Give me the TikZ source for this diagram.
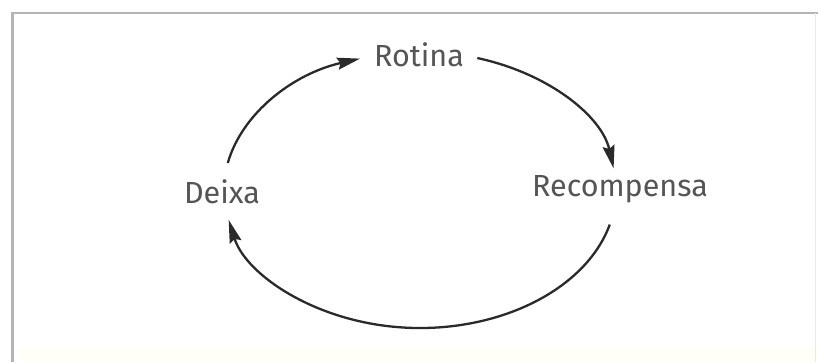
\documentclass[tikz,border=0pt]{standalone}
\usepackage{fontspec}
\setmainfont{Fira Sans}
\usetikzlibrary{arrows.meta,calc}
\definecolor{ink}{HTML}{2A2A2A}
\definecolor{labelgray}{HTML}{555555}
\definecolor{framegray}{HTML}{B4B4B4}
\definecolor{band}{HTML}{FFFEF7}
\tikzset{
  stagelabel/.style={text=labelgray, inner sep=0pt, font=\fontsize{30.5}{36}\selectfont},
  cyclearrow/.style={draw=ink, line width=2.3pt,
    -{Stealth[length=23pt, width=12pt, inset=3pt]}},
}
\begin{document}
\begin{tikzpicture}[x=1pt,y=1pt]
  % canvas and frame
  \useasboundingbox (0,0) rectangle (818,362);
  \fill[white] (0,0) rectangle (818,362);
  \fill[band] (20,0) rectangle (818,14);
  \draw[framegray, line width=2.5pt] (12.5,0) -- (12.5,349) -- (818,349);
  \draw[framegray!30, line width=1pt] (815,349) -- (815,0);

  % stages of the cycle
  \node[stagelabel] (rotina) at (419,307) {Rotina};
  \node[stagelabel] (deixa)  at (222,170) {Deixa};
  \node[stagelabel] (recomp) at (620,173) {Recompensa};

  % the loop is an ellipse round these three stages
  \coordinate (ctr) at (420,172);
  \coordinate (d-out) at ($(ctr)+(168.7:196pt and 138pt)$);
  \coordinate (r-out) at ($(ctr)+(73:196pt and 138pt)$);
  \coordinate (c-out) at ($(ctr)+(-14.5:196pt and 138pt)$);

  \draw[cyclearrow] (d-out) arc[start angle=168.7, end angle=107.8, x radius=196pt, y radius=138pt];
  \draw[cyclearrow] (r-out) arc[start angle=73, end angle=9, x radius=196pt, y radius=138pt];
  \draw[cyclearrow] (c-out) arc[start angle=-14.5, end angle=-167.5, x radius=196pt, y radius=138pt];
\end{tikzpicture}
\end{document}
